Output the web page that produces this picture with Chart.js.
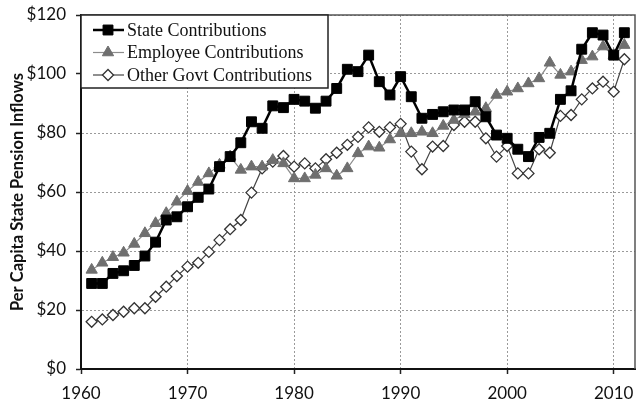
<!DOCTYPE html>
<html lang="en">
<head>
  <meta charset="UTF-8">
  <title>Per Capita State Pension Inflows</title>
  <script src="https://cdn.jsdelivr.net/npm/chart.js"></script>
  <style>
    html, body { margin: 0; padding: 0; background: #fff; }
    .chart-box { width: 643px; height: 406px; position: relative; }
  </style>
</head>
<body>
  <div class="chart-box">
    <canvas id="pensionChart"></canvas>
  </div>

  <script>
    // Data (1961-2011)
    const years = [
      1961, 1962, 1963, 1964, 1965, 1966, 1967, 1968, 1969, 1970,
      1971, 1972, 1973, 1974, 1975, 1976, 1977, 1978, 1979, 1980,
      1981, 1982, 1983, 1984, 1985, 1986, 1987, 1988, 1989, 1990,
      1991, 1992, 1993, 1994, 1995, 1996, 1997, 1998, 1999, 2000,
      2001, 2002, 2003, 2004, 2005, 2006, 2007, 2008, 2009, 2010,
      2011
    ];
    const stateContrib = [
      29.0, 29.0, 32.4, 33.3, 35.1, 38.3, 43.0, 50.5, 51.6, 55.0,
      58.2, 61.0, 68.6, 72.0, 76.7, 83.8, 81.6, 89.2, 88.6, 91.4,
      90.8, 88.4, 90.8, 95.1, 101.6, 100.8, 106.4, 97.4, 92.9, 99.1,
      92.3, 85.0, 86.3, 87.2, 87.8, 87.8, 90.6, 85.5, 79.3, 78.2,
      74.5, 72.0, 78.5, 79.9, 91.4, 94.3, 108.4, 114.0, 113.2, 106.4,
      114.0
    ];
    const employeeContrib = [
      33.6, 36.0, 37.9, 39.4, 42.4, 46.0, 49.4, 52.8, 56.7, 60.3,
      63.4, 66.3, 69.2, 72.0, 67.5, 68.6, 68.6, 70.8, 69.7, 64.6,
      64.6, 65.8, 68.0, 65.5, 68.0, 73.1, 75.4, 75.0, 77.8, 79.9,
      79.9, 80.4, 79.9, 82.4, 84.4, 86.4, 87.2, 88.4, 92.9, 94.0,
      95.1, 96.8, 98.5, 103.8, 99.7, 100.8, 104.7, 105.9, 109.3, 106.4,
      109.8
    ];
    const otherGovtContrib = [
      16.0, 16.8, 18.3, 19.4, 20.6, 20.6, 24.5, 27.9, 31.5, 34.7,
      36.0, 39.7, 43.7, 47.4, 50.5, 59.8, 68.0, 70.3, 72.2, 68.6,
      69.7, 68.0, 71.1, 73.3, 76.0, 78.7, 81.9, 80.4, 81.9, 83.1,
      73.7, 67.7, 75.4, 75.6, 82.7, 83.8, 83.8, 78.2, 72.0, 75.6,
      66.3, 66.3, 74.5, 73.3, 85.8, 86.1, 91.4, 95.1, 97.4, 94.0,
      105.0
    ];
    const seriesNames = ['State Contributions', 'Employee Contributions', 'Other Govt Contributions'];
    const yAxisTitle = 'Per Capita State Pension Inflows';

    function toPoints(values) {
      return years.map((yr, i) => ({ x: yr, y: values[i] }));
    }

    // Legend box drawn inside the plot, top-left, like the original
    const insideLegend = {
      id: 'insideLegend',
      afterDraw(chart) {
        const ctx = chart.ctx;
        const area = chart.chartArea;
        const boxW = 247, boxH = 73;
        const x0 = area.left, y0 = area.top;
        ctx.save();
        ctx.fillStyle = '#fff';
        ctx.fillRect(x0, y0, boxW, boxH);
        ctx.strokeStyle = '#222';
        ctx.lineWidth = 1.5;
        ctx.strokeRect(x0, y0, boxW, boxH);

        ctx.font = '18px "Liberation Serif", serif';
        ctx.textBaseline = 'middle';
        chart.data.datasets.forEach((ds, i) => {
          const cy = y0 + 15 + i * 22.5;
          ctx.setLineDash([]);
          ctx.strokeStyle = ds.borderColor;
          ctx.lineWidth = ds.borderWidth;
          ctx.beginPath();
          ctx.moveTo(x0 + 12, cy);
          ctx.lineTo(x0 + 43, cy);
          ctx.stroke();
          ctx.fillStyle = ds.pointBackgroundColor;
          ctx.strokeStyle = ds.pointBorderColor;
          ctx.lineWidth = ds.pointBorderWidth;
          Chart.helpers.drawPoint(ctx, {
            pointStyle: ds.pointStyle,
            radius: ds.pointRadius,
            rotation: 0,
            borderWidth: ds.pointBorderWidth
          }, x0 + 27, cy);
          ctx.fillStyle = '#111';
          ctx.fillText(ds.label, x0 + 46, cy + 1);
        });
        ctx.restore();
      }
    };

    // Grey frame on top and right of the plot area
    const plotFrame = {
      id: 'plotFrame',
      beforeDatasetsDraw(chart) {
        const { ctx, chartArea: a } = chart;
        ctx.save();
        ctx.strokeStyle = '#555';
        ctx.lineWidth = 1.5;
        ctx.beginPath();
        ctx.moveTo(a.left, a.top);
        ctx.lineTo(a.right, a.top);
        ctx.lineTo(a.right, a.bottom);
        ctx.stroke();
        ctx.restore();
      }
    };

    const gridOpts = {
      color: '#9a9a9a',
      lineWidth: 1,
      borderDash: [2, 2],
      tickColor: '#222',
      tickLength: 5,
      tickWidth: 1.5,
      tickBorderDash: []
    };

    const ctx = document.getElementById('pensionChart').getContext('2d');
    new Chart(ctx, {
      type: 'line',
      data: {
        datasets: [
          {
            label: seriesNames[0],
            data: toPoints(stateContrib),
            borderColor: '#000',
            borderWidth: 2.5,
            pointStyle: 'rect',
            pointRadius: 7,
            pointBackgroundColor: '#000',
            pointBorderColor: '#000',
            pointBorderWidth: 1,
            tension: 0
          },
          {
            label: seriesNames[1],
            data: toPoints(employeeContrib),
            borderColor: '#8c8c8c',
            borderWidth: 1.2,
            pointStyle: 'triangle',
            pointRadius: 6.5,
            pointBackgroundColor: '#6f6f6f',
            pointBorderColor: '#6f6f6f',
            pointBorderWidth: 1,
            tension: 0
          },
          {
            label: seriesNames[2],
            data: toPoints(otherGovtContrib),
            borderColor: '#444',
            borderWidth: 1.2,
            pointStyle: 'rectRot',
            pointRadius: 5.5,
            pointBackgroundColor: '#fff',
            pointBorderColor: '#333',
            pointBorderWidth: 1.3,
            tension: 0
          }
        ]
      },
      options: {
        responsive: true,
        maintainAspectRatio: false,
        animation: false,
        layout: { padding: { top: 15, right: 2, left: 0, bottom: 0 } },
        plugins: {
          legend: { display: false },
          tooltip: { enabled: false }
        },
        scales: {
          x: {
            type: 'linear',
            min: 1960,
            max: 2012,
            afterFit: (scale) => {
              scale.height = 37;
              scale.paddingLeft = 0;
              scale.paddingRight = 0;
            },
            ticks: {
              stepSize: 10,
              includeBounds: false,
              maxRotation: 0,
              padding: 9,
              color: '#111',
              font: { family: 'Lato', size: 17 },
              callback: (v) => String(v)
            },
            grid: gridOpts,
            border: { color: '#111', width: 2, dash: [2, 2] }
          },
          y: {
            min: 0,
            max: 120,
            afterFit: (scale) => {
              scale.width = 81;
              scale.paddingTop = 0;
              scale.paddingBottom = 0;
            },
            ticks: {
              stepSize: 20,
              padding: 10,
              color: '#111',
              font: { family: 'Lato', size: 17 },
              callback: (v) => '$' + v
            },
            grid: gridOpts,
            border: { color: '#111', width: 2, dash: [2, 2] },
            title: {
              display: true,
              text: yAxisTitle,
              color: '#111',
              padding: { top: 8, bottom: 0 },
              font: { family: 'Lato', size: 16.5, weight: 'bold' }
            }
          }
        }
      },
      plugins: [plotFrame, insideLegend]
    });
  </script>
</body>
</html>
